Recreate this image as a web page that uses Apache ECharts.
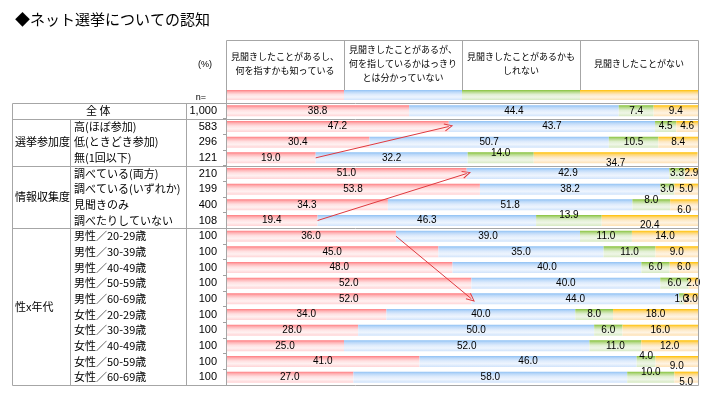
<!DOCTYPE html>
<html><head><meta charset="utf-8">
<script src="https://cdn.jsdelivr.net/npm/echarts@6/dist/echarts.min.js"></script>
<style>html,body{margin:0;padding:0;background:#fff}#c{width:711px;height:396px}</style>
</head><body><div id="c"></div>
<script>
// ---- data ----
const categories = ['全 体','高(ほぼ参加)','低(ときどき参加)','無(1回以下)',
  '調べている(両方)','調べている(いずれか)','見聞きのみ','調べたりしていない',
  '男性／20-29歳','男性／30-39歳','男性／40-49歳','男性／50-59歳','男性／60-69歳',
  '女性／20-29歳','女性／30-39歳','女性／40-49歳','女性／50-59歳','女性／60-69歳'];
const nValues = ['1,000','583','296','121','210','199','400','108',
  '100','100','100','100','100','100','100','100','100','100'];
const groupNames = ['選挙参加度','情報収集度','性x年代'];
const groupRows = [[1,3],[4,7],[8,17]];
const seriesNames = ['見聞きしたことがあるし、\n何を指すかも知っている',
  '見聞きしたことがあるが、\n何を指しているかはっきり\nとは分かっていない',
  '見聞きしたことがあるかも\nしれない',
  '見聞きしたことがない'];
const know    = [38.8,47.2,30.4,19.0,51.0,53.8,34.3,19.4,36.0,45.0,48.0,52.0,52.0,34.0,28.0,25.0,41.0,27.0];
const unclear = [44.4,43.7,50.7,32.2,42.9,38.2,51.8,46.3,39.0,35.0,40.0,40.0,44.0,40.0,50.0,52.0,46.0,58.0];
const maybe   = [7.4,4.5,10.5,14.0,3.3,3.0,8.0,13.9,11.0,11.0,6.0,6.0,1.0,8.0,6.0,11.0,4.0,10.0];
const never   = [9.4,4.6,8.4,34.7,2.9,5.0,6.0,20.4,14.0,9.0,6.0,2.0,3.0,18.0,16.0,12.0,9.0,5.0];
const arrows  = [[3,1],[7,4],[8,12]]; // from row -> to row (end of first segment)

// ---- styles ----
const FONT = '"Noto Sans CJK JP", "Noto Sans", sans-serif';
const NUMFONT = '"Liberation Sans", Arial, sans-serif';
function grad(c){ return {type:'linear',x:0,y:0,x2:0,y2:1,colorStops:[
  {offset:0,color:c[0]},{offset:0.2,color:c[1]},{offset:0.45,color:c[2]},{offset:0.7,color:c[3]},{offset:1,color:c[4]}]}; }
const fills = [
  grad(['#ff7c80','#ffb4b6','#ffe0e1','#fff1f1','#ffd3d5']),
  grad(['#8fc1f4','#bcd9f9','#deebfc','#eef5fe','#d0e3fb']),
  grad(['#86c23a','#b7da8c','#e1efd2','#eff6e7','#d6e9c2']),
  grad(['#ffc000','#ffd774','#fde8c4','#fff4e3','#fde0b3'])
];
const labelShift = {2:{3:-5,6:-5,7:-5,16:-5,17:-5}, 3:{3:5,6:5,7:5,16:5,17:5}};
const arrowPath = 'path://M5,0 L10,10 L8.8,10.6 L5,2.6 L1.2,10.6 L0,10 Z';

const allVals = [know, unclear, maybe, never];
const series = allVals.map((vals, si) => ({
  type:'bar', name: seriesNames[si], stack:'all', barWidth:11,
  itemStyle:{color: fills[si]},
  label:{show:true, position:'inside', fontSize:10, color:'#000', fontFamily:NUMFONT,
    formatter: p => Number(p.value).toFixed(1)},
  data: vals.map((v,i) => {
    const s = labelShift[si] && labelShift[si][i];
    return s ? {value:v, label:{offset:[0,s]}} : v;
  }),
  animation:false
}));
series[0].markLine = {
  silent:true, animation:false, symbol:['none', arrowPath], symbolSize:[8,9],
  lineStyle:{color:'#e0393e', width:1, type:'solid'}, label:{show:false},
  emphasis:{disabled:true},
  data: arrows.map(([a,b]) => [{coord:[know[a], a]}, {coord:[know[b], b]}])
};

const option = {
  backgroundColor:'#fff',
  animation:false,
  title:{text:'◆ネット選挙についての認知', left:10, top:7,
    textStyle:{fontSize:15, fontWeight:'normal', color:'#000', fontFamily:FONT}},
  grid:{left:226, top:103, width:472, height:282, containLabel:false},
  xAxis:{type:'value', min:0, max:100, show:false},
  yAxis:[
    {type:'category', data:categories, inverse:true, position:'left',
     axisLine:{show:true, lineStyle:{color:'#a0a0a0'}},
     axisTick:{show:true, length:3, lineStyle:{color:'#a0a0a0'}},
     axisLabel:{interval:0, align:'left', margin:152, fontSize:11, color:'#000', fontFamily:FONT,
       formatter:(v,i) => i===0 ? '{c|'+v+'}' : v,
       rich:{c:{padding:[0,0,0,12], fontSize:11, color:'#000', fontFamily:FONT}}}},
    {type:'category', data:categories, inverse:true, position:'left', offset:0,
     axisLine:{show:false}, axisTick:{show:false},
     axisLabel:{interval:0, align:'right', margin:9, fontSize:11, color:'#000', fontFamily:NUMFONT,
       formatter:(v,i) => nValues[i]}}
  ],
  series: series
};

const chart = echarts.init(document.getElementById('c'), null, {renderer:'canvas'});
chart.setOption(option);

// ---- table decoration computed from the axes ----
const px = v => chart.convertToPixel({xAxisIndex:0}, v);
const py = i => chart.convertToPixel({yAxisIndex:0}, i);
const band = py(1) - py(0);
const tTop = Math.round(py(0) - band/2) + 0.5;
const tBottom = Math.round(py(categories.length-1) + band/2) + 0.5;
const xL = Math.round(px(0)) + 0.5, xR = Math.round(px(100)) + 0.5;
const bnd = r => Math.round(py(r) + band/2) + 0.5;
const LC = '#a6a6a6';
const g = [];
const line = (x1,y1,x2,y2,w) => g.push({type:'line', silent:true, z:5,
  shape:{x1,y1,x2,y2}, style:{stroke:LC, lineWidth:w||1}});
const text = (t,x,y,opt) => g.push({type:'text', silent:true, z:6, x, y,
  style:Object.assign({text:t, fill:'#000', font:'11px '+FONT, textAlign:'left', textVerticalAlign:'middle',
    align:'left', verticalAlign:'middle'}, opt||{})});

// header boxes
const hTop = 40.5, hStrip = 90;
line(xL, hTop, xR, hTop);
for (let k=0;k<4;k++){
  const a = px(25*k), b = px(25*(k+1));
  g.push({type:'rect', silent:true, z:4, shape:{x:a, y:hStrip, width:b-a, height:10}, style:{fill:fills[k]}});
  if (k>0) line(Math.round(a)+0.5, hTop, Math.round(a)+0.5, hStrip);
  text(seriesNames[k], (a+b)/2, 64, {font:'9px '+FONT, textAlign:'center', align:'center', lineHeight:14});
}
line(xL, hTop, xL, tBottom);
line(xR, hTop, xR, tBottom);
// table grid lines
const x0 = 12.5, x1 = 70.5, x2 = 186.5;
[tTop, bnd(0), bnd(3), bnd(7), tBottom].forEach(y => line(x0, y, xR, y, 1));
line(x0, tTop, x0, tBottom);
line(x1, bnd(0), x1, tBottom);
line(x2, tTop, x2, tBottom);
// header small texts
text('(%)', 205, 65, {font:'9px '+NUMFONT, textAlign:'center', align:'center'});
text('n=', 201, 98, {font:'9px '+NUMFONT, textAlign:'center', align:'center'});
// group labels
groupNames.forEach((nm,k) => {
  const [a,b] = groupRows[k];
  text(nm, 15, (py(a)+py(b))/2, {font:'11px '+FONT});
});
chart.setOption({graphic:{elements:g}});
</script>
</body></html>
